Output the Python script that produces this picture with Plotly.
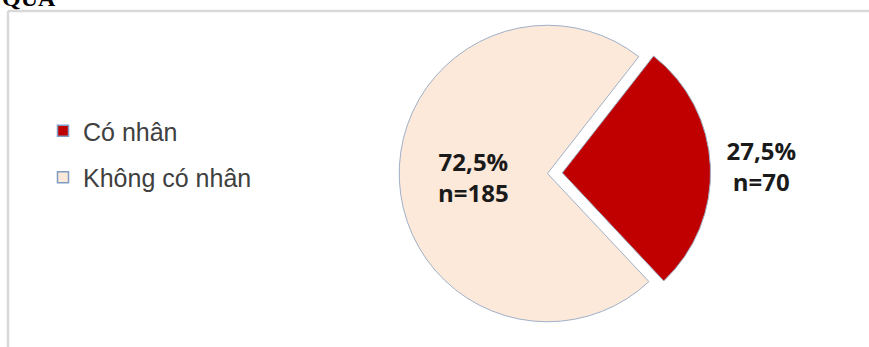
import plotly.graph_objects as go

# ---- data ----
categories = ["Có nhân", "Không có nhân"]
counts = [70, 185]
slice_colors = ["#C00000", "#FDE9D9"]
label_positions = ["outside", "inside"]
heading = "QUẢ"

total = sum(counts)
labels_text = [
    f"<b>{c / total * 100:.1f}%".replace(".", ",") + f"<br>n={c}</b>"
    for c in counts
]

fig = go.Figure()
fig.add_trace(
    go.Pie(
        labels=categories,
        values=counts,
        sort=False,
        direction="clockwise",
        rotation=38,
        pull=[0.1, 0],
        text=labels_text,
        textinfo="text",
        textposition=label_positions,
        insidetextorientation="horizontal",
        textfont=dict(family="Open Sans, Lato, sans-serif", size=24, color="#1a1a1a"),
        marker=dict(colors=slice_colors, line=dict(color="#9fb0c8", width=1)),
        domain=dict(x=[0.38, 0.88], y=[0.03, 0.97]),
        showlegend=False,
        automargin=False,
        hoverinfo="label+value+percent",
    )
)

# legend entries (square swatches) for the two categories
for name, col in zip(categories, slice_colors):
    fig.add_trace(
        go.Scatter(
            x=[None], y=[None], mode="markers", name=name, legendgroup=name,
            marker=dict(symbol="square", size=11, color=col,
                        line=dict(color="#7f9cc4", width=1.5)),
            hoverinfo="skip",
        )
    )

# chart-area frame (top and left edges visible in the crop)
fig.add_shape(
    type="line", xref="paper", yref="paper",
    x0=8 / 869, x1=1.0, y0=1 - 11 / 347, y1=1 - 11 / 347,
    line=dict(color="#d9d9d9", width=2.5),
)
fig.add_shape(
    type="line", xref="paper", yref="paper",
    x0=8 / 869, x1=8 / 869, y0=0, y1=1 - 11 / 347,
    line=dict(color="#d9d9d9", width=2.5),
)

fig.add_annotation(
    text=f"<b>{heading}</b>", xref="paper", yref="paper", x=0, y=1,
    xanchor="left", yanchor="bottom", yshift=-13, showarrow=False,
    font=dict(family="Liberation Serif, serif", size=24, color="#000000"),
)

fig.update_layout(
    width=869,
    height=347,
    margin=dict(l=0, r=0, t=0, b=0, autoexpand=False),
    paper_bgcolor="white",
    plot_bgcolor="white",
    xaxis=dict(visible=False),
    yaxis=dict(visible=False),
    showlegend=True,
    legend=dict(
        x=43 / 869, y=1 - 108 / 347, xanchor="left", yanchor="top",
        font=dict(family="Liberation Sans, Arial, sans-serif", size=25, color="#404040"),
        tracegroupgap=11,
        bgcolor="rgba(0,0,0,0)",
    ),
)

fig.write_html(
    "out.html",
    config={"displayModeBar": False},
    post_script="document.body.style.margin='0';",
)
